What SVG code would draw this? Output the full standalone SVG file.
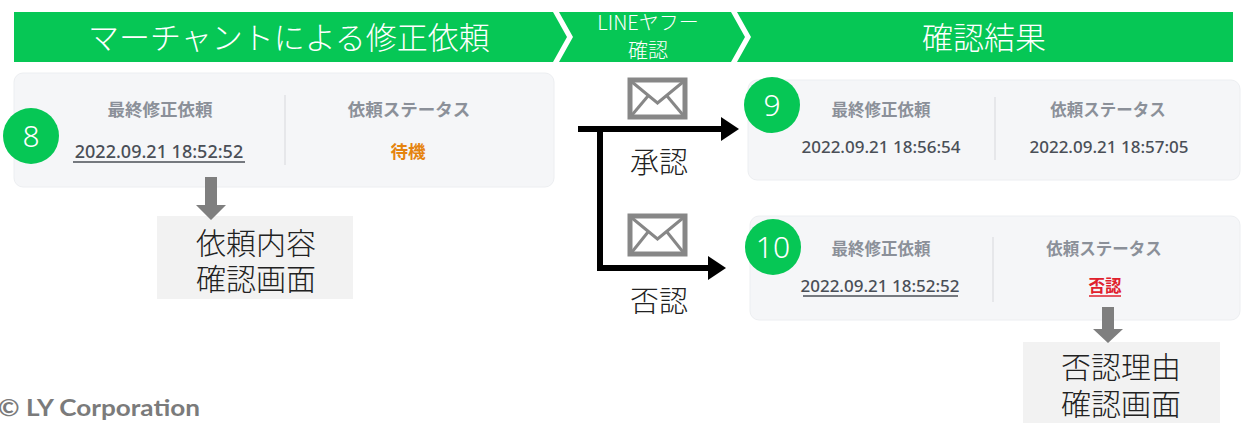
<svg xmlns="http://www.w3.org/2000/svg" width="1242" height="423" viewBox="0 0 1242 423">
<style>
.ban{fill:#06C755}
.bt{fill:#fff;font-family:"Noto Sans CJK JP","Noto Sans",sans-serif;text-anchor:middle;font-weight:300}
.card{fill:#f5f6f8;stroke:#eceef1;stroke-width:1}
.lbl{fill:#8b9099;font-family:"Noto Sans CJK JP","Noto Sans",sans-serif;font-size:16.5px;font-weight:700;text-anchor:middle}
.val{fill:#4a4f57;font-family:"Noto Sans","Noto Sans CJK JP",sans-serif;font-size:17px;font-weight:500;text-anchor:middle}
.div{stroke:#e0e2e6;stroke-width:1.5}
.num{fill:#06C755}
.nt{fill:#fff;font-family:"Noto Sans","Noto Sans CJK JP",sans-serif;font-size:30px;font-weight:300;text-anchor:middle}
.box{fill:#f2f2f2}
.bx{fill:#222;font-family:"Noto Sans CJK JP",sans-serif;font-size:30px;text-anchor:middle;font-weight:300}
.gar{fill:#7f7f7f}
.env{fill:#fff;stroke:#878787;stroke-width:5}
.envl{fill:none;stroke:#878787;stroke-width:3}
.con{fill:none;stroke:#000;stroke-width:6}
.cl{fill:#222;font-family:"Noto Sans CJK JP",sans-serif;font-size:29px;text-anchor:middle;font-weight:300}
</style>
<defs>
<marker id="ah" markerWidth="4" markerHeight="4" refX="0" refY="2" orient="auto" markerUnits="strokeWidth">
<path d="M0,0 L3,2 L0,4 Z" fill="#000"/>
</marker>
</defs>
<rect width="1242" height="423" fill="#fff"/>

<g id="banner">
<polygon class="ban" points="14,12 553,12 567,37 553,62 14,62"/>
<polygon class="ban" points="559,12 731,12 745,37 731,62 559,62 573,37"/>
<polygon class="ban" points="737,12 1233,12 1233,62 737,62 751,37"/>
<text class="bt" x="289" y="49" font-size="31">マーチャントによる修正依頼</text>
<text class="bt" x="648" y="30" font-size="20">LINEヤフー</text>
<text class="bt" x="648" y="58" font-size="20">確認</text>
<text class="bt" x="984" y="49" font-size="31">確認結果</text>
</g>

<g id="card1">
<rect class="card" x="14" y="73" width="540" height="114" rx="9"/>
<line class="div" x1="285" y1="95" x2="285" y2="165"/>
<text class="lbl" x="160" y="116" style="font-size:17.5px">最終修正依頼</text>
<text class="val" x="159" y="158" style="font-size:18px">2022.09.21 18:52:52</text>
<line x1="73" y1="162" x2="245" y2="162" stroke="#4a4f57" stroke-width="1.5"/>
<text class="lbl" x="409" y="116" style="font-size:17.5px">依頼ステータス</text>
<text class="lbl" x="408" y="158" style="fill:#e5840f;font-size:17.5px">待機</text>
</g>
<g id="n8">
<circle class="num" cx="31" cy="136" r="28"/>
<text class="nt" x="31" y="147">8</text>
</g>

<g id="detail">
<rect class="box" x="157" y="216" width="196" height="83"/>
<text class="bx" x="256" y="254">依頼内容</text>
<text class="bx" x="256" y="290">確認画面</text>
</g>

<g id="card2">
<rect class="card" x="748" y="80" width="492" height="100" rx="9"/>
<line class="div" x1="995" y1="97" x2="995" y2="160"/>
<text class="lbl" x="881" y="116">最終修正依頼</text>
<text class="lbl" x="1108" y="116">依頼ステータス</text>
<text class="val" x="881" y="153">2022.09.21 18:56:54</text>
<text class="val" x="1109" y="153">2022.09.21 18:57:05</text>
</g>
<g id="n9">
<circle class="num" cx="772" cy="105" r="28"/>
<text class="nt" x="772" y="116">9</text>
</g>

<g id="card3">
<rect class="card" x="750" y="216" width="490" height="104" rx="9"/>
<line class="div" x1="993" y1="237" x2="993" y2="302"/>
<text class="lbl" x="881" y="255">最終修正依頼</text>
<text class="lbl" x="1104" y="255">依頼ステータス</text>
<text class="val" x="880" y="292">2022.09.21 18:52:52</text>
<line x1="803" y1="296" x2="958" y2="296" stroke="#4a4f57" stroke-width="1.5"/>
<text class="lbl" x="1105" y="292" style="fill:#e0202c">否認</text>
<line x1="1089" y1="296" x2="1121" y2="296" stroke="#e0202c" stroke-width="1.5"/>
</g>
<g id="n10">
<circle class="num" cx="773" cy="247" r="28"/>
<text class="nt" x="773" y="258">10</text>
</g>

<g id="reason">
<rect class="box" x="1023" y="342" width="197" height="81"/>
<text class="bx" x="1121" y="378">否認理由</text>
<text class="bx" x="1121" y="415">確認画面</text>
</g>

<g id="env1">
<rect class="env" x="630" y="80" width="55" height="37"/>
<polyline class="envl" points="632,82 657.5,103 683,82"/>
<line class="envl" x1="632" y1="115" x2="648" y2="96"/>
<line class="envl" x1="683" y1="115" x2="667" y2="96"/>
</g>
<g id="env2">
<rect class="env" x="630" y="216" width="55" height="38"/>
<polyline class="envl" points="632,218 657.5,239 683,218"/>
<line class="envl" x1="632" y1="252" x2="648" y2="232"/>
<line class="envl" x1="683" y1="252" x2="667" y2="232"/>
</g>

<g id="connectors">
<line class="con" x1="578" y1="129" x2="721" y2="129" marker-end="url(#ah)"/>
<polyline class="con" points="600,129 600,268 708,268" marker-end="url(#ah)"/>
<polygon class="gar" points="205,177 217,177 217,205 226,205 211,220 196,205 205,205"/>
<polygon class="gar" points="1102,307 1114,307 1114,329 1123,329 1108,343 1093,329 1102,329"/>
</g>

<g id="labels">
<text class="cl" x="659" y="173">承認</text>
<text class="cl" x="659" y="312">否認</text>
<text x="-2" y="416" fill="#7b7b7b" font-family="Lato,'Noto Sans',sans-serif" font-weight="700" font-size="22" textLength="202" lengthAdjust="spacingAndGlyphs">© LY Corporation</text>
</g>
</svg>
